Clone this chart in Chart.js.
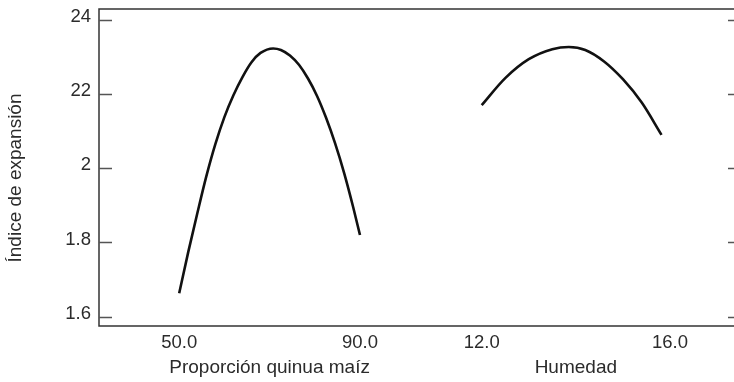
<!DOCTYPE html>
<html>
<head>
<meta charset="utf-8">
<script src="https://cdn.jsdelivr.net/npm/chart.js@4.4.1/dist/chart.umd.min.js"></script>
<style>
  html, body { margin: 0; padding: 0; background: #fff; overflow: hidden; }
  #wrap { width: 734px; height: 382px; position: relative; }
</style>
</head>
<body>
<div id="wrap"><canvas id="expChart"></canvas></div>
<script>
// Proporción quinua maíz panel
const propX = [50, 52, 54, 56, 58, 60, 62, 64, 66, 68, 70.8, 72.5, 74.5, 76.5, 78.5, 80.5, 82.5, 84.5, 86.5, 88.5, 90];
const propY = [1.663, 1.774, 1.878, 1.978, 2.065, 2.138, 2.197, 2.246, 2.286, 2.311, 2.323, 2.319, 2.304, 2.279, 2.242, 2.195, 2.136, 2.067, 1.987, 1.895, 1.820];

// Humedad panel
const humX = [12.0, 12.5, 13.0, 13.5, 13.85, 14.2, 14.6, 15.0, 15.4, 15.82];
const humY = [2.170, 2.243, 2.294, 2.321, 2.327, 2.319, 2.288, 2.240, 2.177, 2.090];

// axis ticks and labels
const propTicks = [50, 90];
const humTicks = [12, 16];
const yTicks = [1.6, 1.8, 2.0, 2.2, 2.4];
const yLabels = ["1.6", "1.8", "2", "22", "24"];
const xTitles = ["Proporción quinua maíz", "Humedad"];
const yTitle = "Índice de expansión";

const FONT = "'Liberation Sans', Arial, sans-serif";
const TEXT = "#2b2b2b";
const AXIS = "#333333";

// frame, tick marks, x labels and titles
const framePlugin = {
  id: "frame",
  afterDraw(chart) {
    const ctx = chart.ctx;
    const { left, right, top, bottom } = chart.chartArea;
    const y = chart.scales.y;
    ctx.save();
    ctx.strokeStyle = AXIS;
    ctx.lineWidth = 1.5;
    ctx.beginPath();
    ctx.moveTo(right, top); ctx.lineTo(left, top);
    ctx.lineTo(left, bottom); ctx.lineTo(right, bottom);
    ctx.stroke();

    ctx.lineWidth = 1.3;
    ctx.strokeStyle = "#555";
    yTicks.forEach(v => {
      const py = Math.round(y.getPixelForValue(v)) + 0.5;
      ctx.beginPath();
      ctx.moveTo(left, py); ctx.lineTo(left + 13, py);
      ctx.moveTo(right - 6, py); ctx.lineTo(right, py);
      ctx.stroke();
    });

    ctx.fillStyle = TEXT;
    ctx.textAlign = "center";
    ctx.textBaseline = "middle";
    const panels = [[chart.scales.x, propTicks], [chart.scales.x2, humTicks]];
    panels.forEach(([sc, ticks], i) => {
      const xs = ticks.map(t => sc.getPixelForValue(t));
      ctx.font = "18.5px " + FONT;
      ticks.forEach((t, j) => ctx.fillText(t.toFixed(1), xs[j], bottom + 17));
      ctx.font = "19px " + FONT;
      ctx.fillText(xTitles[i], (xs[0] + xs[xs.length - 1]) / 2, bottom + 42);
    });

    ctx.translate(16, 178);
    ctx.rotate(-Math.PI / 2);
    ctx.fillText(yTitle, 0, 0);
    ctx.restore();
  }
};

new Chart(document.getElementById("expChart"), {
  type: "line",
  data: {
    datasets: [
      { data: propX.map((x, i) => ({ x, y: propY[i] })), xAxisID: "x", yAxisID: "y",
        borderColor: "#111", borderWidth: 2.6, pointRadius: 0, cubicInterpolationMode: "monotone", fill: false },
      { data: humX.map((x, i) => ({ x, y: humY[i] })), xAxisID: "x2", yAxisID: "y",
        borderColor: "#111", borderWidth: 2.6, pointRadius: 0, cubicInterpolationMode: "monotone", fill: false }
    ]
  },
  options: {
    responsive: true,
    maintainAspectRatio: false,
    animation: false,
    layout: { padding: { left: 0, right: 0, top: 9, bottom: 56 } },
    plugins: { legend: { display: false }, tooltip: { enabled: false } },
    scales: {
      x: { type: "linear", display: false, min: 32.26, max: 172.75 },
      x2: { type: "linear", display: false, min: 3.87, max: 17.36 },
      y: {
        type: "linear",
        min: 1.5749, max: 2.4293,
        afterBuildTicks: s => { s.ticks = yTicks.map(v => ({ value: v })); },
        afterFit: s => { s.width = 99; },
        grid: { display: false, drawTicks: true, tickLength: 8 },
        border: { display: false },
        ticks: {
          color: TEXT, padding: 0, labelOffset: -3,
          font: { family: FONT, size: 18.5, lineHeight: 0.9 },
          callback: (v, i) => yLabels[i]
        }
      }
    }
  },
  plugins: [framePlugin]
});
</script>
</body>
</html>
